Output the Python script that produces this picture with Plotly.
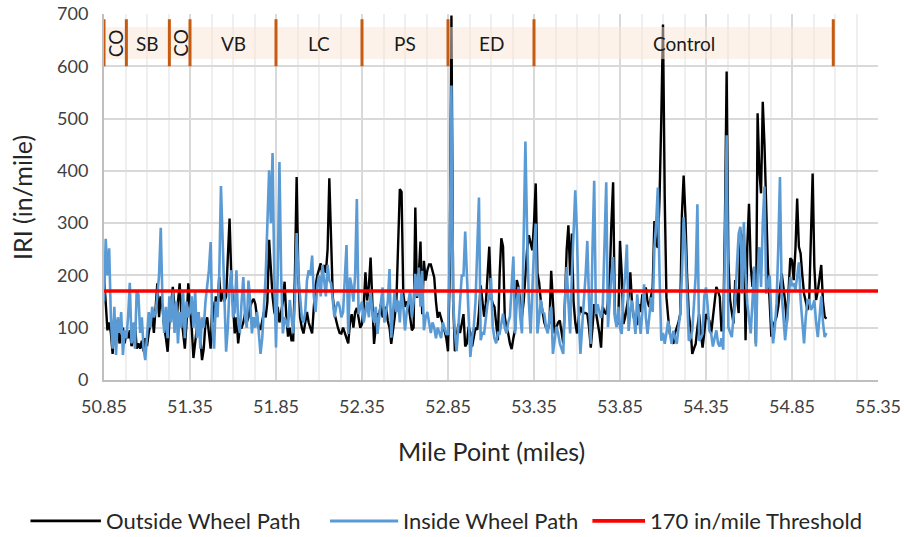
import numpy as np
import plotly.graph_objects as go

# Mile-point grid: readings every 0.01 mile from 50.85 to 55.05
start_mile = 50.85
step_mile = 0.01

# IRI (in/mile), one row per 0.1 mile
outside_wheel_path = [
    200, 150, 95, 110, 90, 50, 100, 80, 115, 70,
    85, 100, 70, 90, 80, 95, 65, 75, 110, 60,
    70, 60, 75, 55, 80, 65, 90, 110, 127, 90,
    150, 185, 120, 160, 140, 100, 80, 54, 110, 150,
    178, 140, 100, 150, 185, 120, 90, 60, 110, 185,
    140, 100, 42, 70, 100, 130, 80, 38, 60, 110,
    120, 90, 60, 150, 110, 160, 140, 197, 150, 170,
    150, 160, 230, 309, 200, 130, 89, 120, 70, 100,
    100, 110, 127, 110, 120, 140, 150, 155, 145, 120,
    100, 96, 110, 130, 120, 150, 268, 204, 160, 130,
    120, 140, 110, 130, 150, 188, 120, 83, 100, 76,
    76, 200, 388, 200, 120, 100, 89, 110, 130, 110,
    100, 89, 140, 180, 200, 210, 223, 200, 220, 205,
    250, 386, 250, 160, 127, 110, 100, 90, 89, 100,
    90, 80, 70, 110, 126, 100, 130, 138, 120, 100,
    107, 140, 206, 152, 180, 234, 150, 69, 100, 126,
    126, 145, 120, 130, 140, 113, 100, 69, 90, 120,
    152, 250, 365, 360, 164, 140, 150, 145, 120, 95,
    100, 330, 157, 200, 265, 126, 228, 190, 210, 221,
    221, 208, 196, 150, 119, 130, 119, 110, 94, 80,
    55, 200, 697, 150, 55, 80, 107, 90, 110, 126,
    64, 70, 102, 90, 64, 80, 100, 96, 130, 181,
    150, 121, 146, 200, 255, 160, 146, 140, 100, 76,
    200, 271, 255, 121, 100, 89, 70, 59, 80, 96,
    191, 178, 150, 121, 150, 200, 250, 277, 260, 248,
    300, 376, 204, 186, 150, 127, 110, 100, 96, 110,
    209, 150, 89, 100, 110, 114, 90, 70, 150, 250,
    296, 200, 280, 150, 110, 89, 120, 140, 130, 128,
    128, 126, 100, 62, 100, 145, 130, 113, 90, 62,
    140, 130, 126, 150, 190, 300, 378, 126, 110, 107,
    266, 203, 107, 120, 145, 160, 206, 145, 120, 107,
    107, 145, 130, 164, 150, 177, 150, 140, 160, 177,
    304, 260, 253, 350, 500, 680, 350, 158, 120, 88,
    80, 69, 90, 101, 110, 126, 317, 391, 317, 200,
    126, 100, 50, 60, 69, 100, 126, 90, 62, 90,
    126, 120, 113, 89, 120, 150, 178, 170, 159, 95,
    95, 300, 590, 229, 153, 130, 108, 191, 160, 128,
    287, 260, 280, 76, 255, 337, 220, 178, 216, 70,
    510, 400, 357, 532, 450, 331, 216, 150, 83, 102,
    110, 121, 140, 180, 204, 178, 150, 108, 170, 233,
    229, 191, 250, 347, 255, 242, 200, 165, 150, 134,
    153, 280, 395, 216, 153, 170, 200, 220, 150, 121,
    117,
]

inside_wheel_path = [
    150, 270, 200, 252, 120, 60, 140, 48, 120, 90,
    130, 48, 95, 80, 120, 186, 70, 110, 60, 170,
    164, 90, 120, 60, 38, 80, 130, 100, 140, 120,
    130, 160, 200, 291, 150, 90, 140, 80, 160, 110,
    170, 90, 150, 70, 130, 100, 170, 80, 150, 120,
    130, 160, 100, 170, 80, 130, 60, 120, 100, 150,
    180, 210, 264, 100, 60, 150, 120, 200, 371, 250,
    150, 54, 100, 180, 210, 120, 130, 210, 110, 90,
    150, 197, 120, 100, 190, 150, 89, 120, 100, 130,
    90, 50, 80, 140, 200, 300, 401, 300, 434, 200,
    62, 200, 417, 200, 89, 120, 110, 100, 153, 120,
    89, 150, 281, 200, 153, 120, 110, 130, 190, 210,
    200, 238, 160, 130, 180, 200, 160, 220, 190, 160,
    220, 190, 185, 150, 120, 140, 150, 140, 120, 130,
    200, 258, 88, 196, 180, 150, 200, 346, 126, 140,
    150, 110, 130, 150, 120, 171, 130, 110, 140, 88,
    120, 150, 177, 110, 130, 150, 212, 81, 130, 171,
    130, 152, 110, 171, 140, 95, 130, 150, 171, 120,
    150, 203, 160, 215, 140, 209, 95, 120, 130, 110,
    90, 110, 100, 80, 100, 90, 80, 110, 100, 88,
    88, 250, 563, 150, 90, 55, 100, 150, 200, 200,
    284, 200, 120, 44, 80, 102, 150, 250, 349, 76,
    90, 89, 120, 146, 160, 195, 102, 80, 70, 90,
    89, 110, 127, 100, 89, 110, 121, 180, 236, 89,
    150, 178, 120, 89, 300, 456, 280, 150, 89, 180,
    250, 299, 89, 120, 153, 130, 127, 100, 89, 120,
    140, 50, 80, 102, 90, 70, 60, 50, 150, 216,
    150, 89, 200, 267, 363, 280, 120, 50, 110, 153,
    200, 266, 150, 69, 250, 381, 126, 145, 130, 119,
    145, 250, 378, 101, 158, 200, 235, 120, 101, 140,
    100, 88, 164, 200, 259, 94, 130, 152, 120, 88,
    164, 120, 88, 130, 183, 120, 88, 120, 158, 130,
    253, 300, 368, 200, 75, 90, 69, 90, 113, 90,
    69, 94, 80, 69, 100, 126, 200, 311, 254, 150,
    75, 80, 94, 145, 200, 336, 75, 80, 88, 160,
    177, 140, 94, 89, 64, 80, 95, 70, 64, 80,
    58, 250, 468, 101, 90, 82, 120, 153, 220, 280,
    293, 165, 302, 200, 146, 110, 89, 150, 217, 64,
    200, 254, 178, 300, 370, 165, 180, 200, 120, 70,
    100, 146, 250, 388, 165, 120, 76, 110, 153, 197,
    180, 185, 172, 200, 225, 153, 110, 70, 120, 153,
    153, 134, 140, 153, 110, 82, 120, 160, 110, 82,
    90,
]

threshold_value = 170
threshold_span = [50.85, 55.35]

# Test sections along the corridor
section_names = ["CO", "SB", "CO", "VB", "LC", "PS", "ED", "Control"]
section_starts = [50.85, 50.98, 51.23, 51.35, 51.85, 52.35, 52.85, 53.35]
section_ends = [50.98, 51.23, 51.35, 51.85, 52.35, 52.85, 53.35, 55.09]

x_ticks = [50.85, 51.35, 51.85, 52.35, 52.85, 53.35, 53.85, 54.35, 54.85, 55.35]

mile_points = np.round(start_mile + step_mile * np.arange(len(outside_wheel_path)), 2)

FONT = "Lato"
series_names = ["Outside Wheel Path", "Inside Wheel Path", "170 in/mile Threshold"]
series_colors = ["#000000", "#5b9bd5", "#ff0000"]
series_widths = [2.4, 2.6, 3.5]

fig = go.Figure()
fig.add_trace(go.Scatter(
    x=mile_points, y=outside_wheel_path, mode="lines", name=series_names[0],
    line=dict(color=series_colors[0], width=series_widths[0]), showlegend=False,
))
fig.add_trace(go.Scatter(
    x=mile_points, y=inside_wheel_path, mode="lines", name=series_names[1],
    line=dict(color=series_colors[1], width=series_widths[1]), showlegend=False,
))
fig.add_trace(go.Scatter(
    x=threshold_span, y=[threshold_value, threshold_value], mode="lines",
    name=series_names[2],
    line=dict(color=series_colors[2], width=series_widths[2]), showlegend=False,
))

# Section band with its boundary markers and labels
band_lo, band_hi = 614, 675
mark_lo, mark_hi = 600, 690
fig.add_shape(type="rect", xref="x", yref="y",
              x0=section_starts[0], x1=section_ends[-1], y0=band_lo, y1=band_hi,
              fillcolor="rgb(251,229,214)", opacity=0.5, line=dict(width=0),
              layer="above")
boundaries = section_starts + [section_ends[-1]]
for b in boundaries:
    fig.add_shape(type="line", xref="x", yref="y", x0=b, x1=b,
                  y0=mark_lo, y1=mark_hi,
                  line=dict(color="#c55a11", width=3), layer="above")
for name, s, e in zip(section_names, section_starts, section_ends):
    fig.add_annotation(x=(s + e) / 2, y=(band_lo + band_hi) / 2, xref="x", yref="y",
                       text=name, showarrow=False,
                       textangle=-90 if name == "CO" else 0,
                       font=dict(family=FONT, size=19, color="#1a1a1a"))

# Axis titles
fig.add_annotation(x=0.5, y=-0.194, xref="paper", yref="paper",
                   text="Mile Point (miles)", showarrow=False,
                   xanchor="center", yanchor="middle",
                   font=dict(family=FONT, size=25, color="#262626"))
fig.add_annotation(x=-0.106, y=0.5, xref="paper", yref="paper",
                   text="IRI (in/mile)", showarrow=False, textangle=-90,
                   xanchor="center", yanchor="middle",
                   font=dict(family=FONT, size=25, color="#262626"))

# Legend row beneath the axis title: line sample followed by its label
legend_y = -0.385
legend_slots = [(-0.095, -0.004), (0.292, 0.380), (0.631, 0.699)]
for (x0, x1), name, color, width in zip(legend_slots, series_names, series_colors, series_widths):
    fig.add_shape(type="line", xref="paper", yref="paper", x0=x0, x1=x1,
                  y0=legend_y, y1=legend_y, line=dict(color=color, width=width + 0.4))
    fig.add_annotation(x=x1 + 0.004, y=legend_y, xref="paper", yref="paper",
                       text=name, showarrow=False, xanchor="left", yanchor="middle",
                       font=dict(family=FONT, size=22, color="#262626"))

fig.update_layout(
    width=904, height=537,
    margin=dict(l=104, r=26, t=14, b=157, autoexpand=False),
    paper_bgcolor="white", plot_bgcolor="white",
    font=dict(family=FONT, size=18, color="#404040"),
    showlegend=False,
    xaxis=dict(
        range=[50.85, 55.35], tickvals=x_ticks, ticktext=[f"{v:.2f}" for v in x_ticks],
        showgrid=True, gridcolor="#d9d9d9", gridwidth=1.5,
        minor=dict(tick0=50.85, dtick=0.125, showgrid=True, gridcolor="#efefef", gridwidth=1.5),
        showline=True, linecolor="#bfbfbf", linewidth=2,
        ticks="", zeroline=False, ticklabelstandoff=9, automargin=False,
        tickfont=dict(family=FONT, size=18, color="#404040"),
    ),
    yaxis=dict(
        range=[0, 700], dtick=100, tick0=0,
        showgrid=True, gridcolor="#d9d9d9", gridwidth=1.5,
        showline=True, linecolor="#bfbfbf", linewidth=2,
        ticks="", zeroline=False, ticklabelstandoff=10, automargin=False,
        tickfont=dict(family=FONT, size=18, color="#404040"),
    ),
)

fig.write_html("out.html")
